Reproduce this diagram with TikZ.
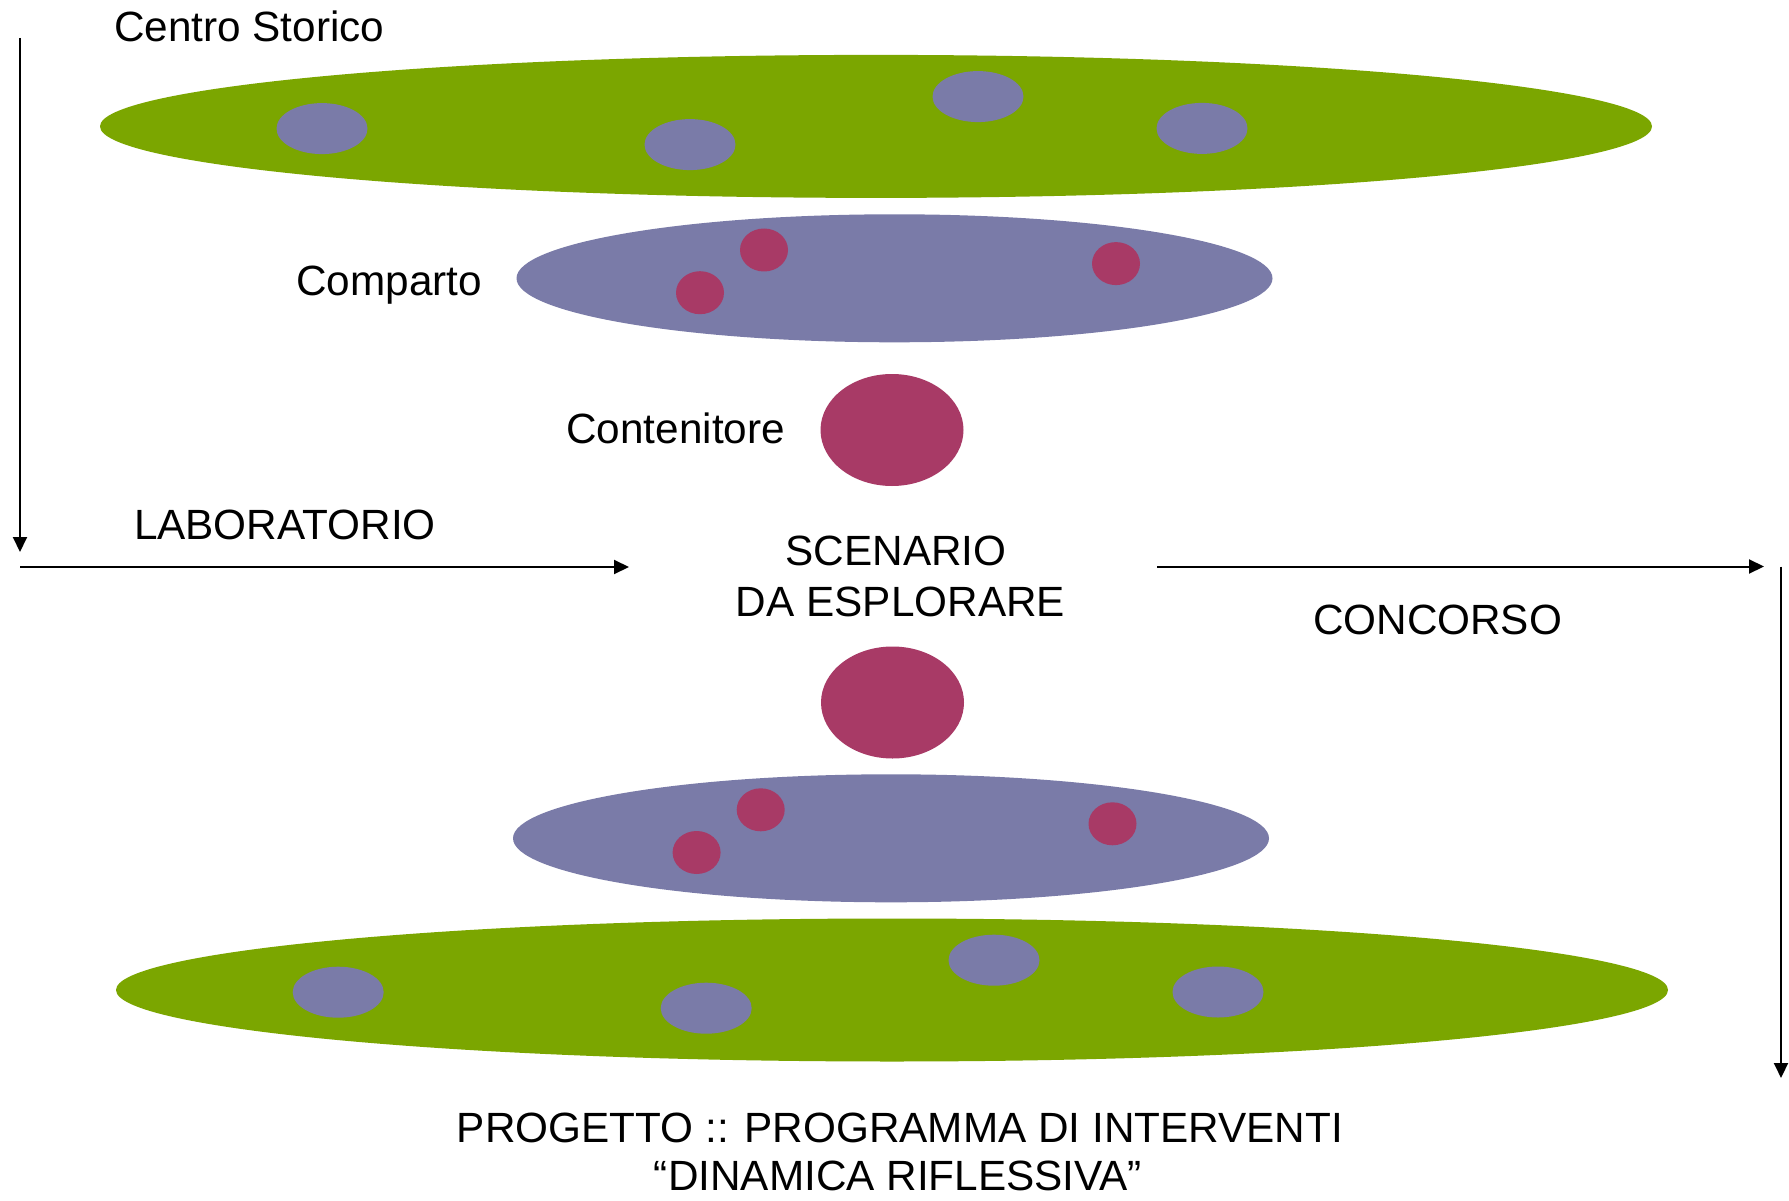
\documentclass[tikz,border=0pt]{standalone}
\usepackage{fontspec}
\setmainfont{Liberation Sans}
\usetikzlibrary{shapes.geometric,arrows.meta}
\definecolor{cgreen}{HTML}{7BA600}
\definecolor{cblue}{HTML}{7A7BA8}
\definecolor{cred}{HTML}{A83A66}
\begin{document}
\begin{tikzpicture}[x=1pt,y=-1pt,
  blob/.style={ellipse, inner sep=0pt, outer sep=0pt, draw=none},
  big/.style={blob, fill=cgreen, minimum width=1552pt, minimum height=143pt},
  comp/.style={blob, fill=cblue, minimum width=756pt, minimum height=128pt},
  cont/.style={blob, fill=cred, minimum width=143pt, minimum height=112pt},
  sblue/.style={blob, fill=cblue, minimum width=91pt, minimum height=51pt},
  sred/.style={blob, fill=cred, minimum width=48pt, minimum height=43pt},
  lbl/.style={font=\fontsize{42.3}{50}\selectfont, inner sep=0pt, outer sep=0pt},
  arr/.style={line width=2pt, -{Triangle[length=15pt,width=14pt]}}]
\useasboundingbox (0,0) rectangle (1789,1201);
\fill[white] (0,0) rectangle (1789,1201);

% top: Centro Storico
\node[big] (cs1) at (876,126.4) {};
\node[sblue] (cs1a) at (322,128.6) {};
\node[sblue] (cs1b) at (690,144.6) {};
\node[sblue] (cs1c) at (978,96.6) {};
\node[sblue] (cs1d) at (1202,128.4) {};
% top: Comparto
\node[comp] (cp1) at (894.5,278.3) {};
\node[sred] (cp1a) at (764,250) {};
\node[sred] (cp1b) at (700,292.7) {};
\node[sred] (cp1c) at (1116,263.6) {};
% top: Contenitore
\node[cont] (ct1) at (892,430) {};

% bottom: Contenitore
\node[cont] (ct2) at (892.5,702.5) {};
% bottom: Comparto
\node[comp] (cp2) at (891,838.3) {};
\node[sred] (cp2a) at (760.7,809.8) {};
\node[sred] (cp2b) at (696.6,852.5) {};
\node[sred] (cp2c) at (1112.5,823.8) {};
% bottom: Centro Storico
\node[big] (cs2) at (892,990) {};
\node[sblue] (cs2a) at (338.2,992.2) {};
\node[sblue] (cs2b) at (706.2,1008.2) {};
\node[sblue] (cs2c) at (994,960.2) {};
\node[sblue] (cs2d) at (1218,992) {};

% labels
\node[lbl, anchor=base west] (tcs) at (114,41.6) {Centro Storico};
\node[lbl, anchor=base east] (tcp) at (482,295) {Comparto};
\node[lbl, anchor=base east] (tct) at (785,443.7) {Contenitore};
\node[lbl, anchor=base west] (tlab) at (134,539.3) {LABORATORIO};
\node[lbl, anchor=base] (tsc1) at (896,565.7) {SCENARIO};
\node[lbl, anchor=base] (tsc2) at (900.5,616) {DA ESPLORARE};
\node[lbl, anchor=base west] (tcon) at (1313,634.7) {CONCORSO};
\node[lbl, anchor=base] (tpr1) at (900,1142) {PROGETTO :: PROGRAMMA DI INTERVENTI};
\node[lbl, anchor=base] (tpr2) at (898,1190) {“DINAMICA RIFLESSIVA”};

% arrows
\coordinate (a1s) at (20,38);
\coordinate (a1e) at (20,552);
\coordinate (a2s) at (20,567);
\coordinate (a2e) at (629,567);
\coordinate (a3s) at (1157,566.5);
\coordinate (a3e) at (1764,566.5);
\coordinate (a4s) at (1781,566.5);
\coordinate (a4e) at (1781,1078);
\draw[arr] (a1s) -- (a1e);
\draw[arr] (a2s) -- (a2e);
\draw[arr] (a3s) -- (a3e);
\draw[arr] (a4s) -- (a4e);
\end{tikzpicture}
\end{document}
